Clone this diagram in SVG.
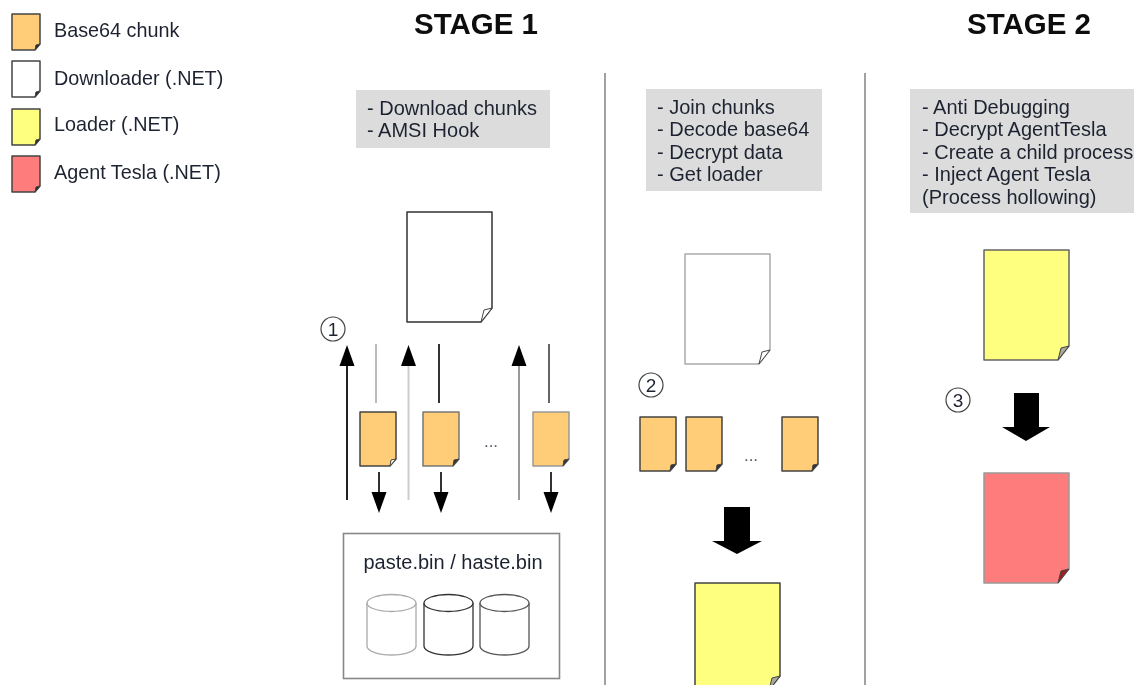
<svg xmlns="http://www.w3.org/2000/svg" width="1134" height="685" viewBox="0 0 1134 685">
<style>
text{font-family:"Liberation Sans",Arial,sans-serif;fill:#1e2430}
.leg{font-size:19.800px}
.title{font-size:29.500px;font-weight:bold;fill:#111;text-anchor:middle}
.note{font-size:20px}
.bin{font-size:20px;text-anchor:middle}
.panel{fill:#dcdcdc}
.doc{stroke:#444;stroke-width:1.5;stroke-linejoin:round}
.fold{fill:#777;stroke:#444;stroke-width:1}
.orange{fill:#ffcc77}.white{fill:#fff}.yellow{fill:#ffff7f}.red{fill:#ff7b7b}
.div{stroke:#8a8a8a;stroke-width:1.6;fill:none}
.wire{fill:none;stroke-width:2}
.head{fill:#000}
.cyl{fill:#fff;stroke:#555;stroke-width:1.3}
.num{fill:#fff;stroke:#444;stroke-width:1.2}
.numt{font-size:19px;text-anchor:middle}
.dots{font-size:17px;text-anchor:middle;fill:#556}
</style>
<defs>
<filter id="soft" x="0" y="0" width="1134" height="685" filterUnits="userSpaceOnUse"><feGaussianBlur stdDeviation="0.6"/></filter>
<path id="smallDoc" d="M0 0H36V47L30 54H0Z"/>
<path id="smallFold" d="M36 47L31 48L30 54Z"/>
<path id="bigDoc" d="M0 0H85V96L74 110H0Z"/>
<path id="bigFold" d="M85 96L77 98L74 110Z"/>
<path id="legDoc" d="M0 0H28V30L23 36H0Z"/>
<path id="legFold" d="M28 30L24 31L23 36Z"/>
<path id="arrowUp" d="M-7.500 21L0 0L7.500 21Z"/>
<path id="arrowDown" d="M-7.500 -21L0 0L7.500 -21Z"/>
<g id="cylShape"><path d="M0 9V52C0 57 11 61 24.500 61S49 57 49 52V9"/><ellipse cx="24.500" cy="9" rx="24.500" ry="8.500"/></g>
</defs>
<rect width="1134" height="685" fill="#fff"/>
<g filter="url(#soft)">
<g id="legend">
<g id="legend-base64"><use href="#legDoc" x="12" y="14" class="doc orange"/><use href="#legFold" x="12" y="14" class="fold" style="fill:#222"/><text x="54" y="37" class="leg">Base64 chunk</text></g>
<g id="legend-downloader"><use href="#legDoc" x="12" y="61" class="doc white"/><use href="#legFold" x="12" y="61" class="fold" style="fill:#222"/><text x="54" y="85" class="leg">Downloader (.NET)</text></g>
<g id="legend-loader"><use href="#legDoc" x="12" y="109" class="doc yellow"/><use href="#legFold" x="12" y="109" class="fold" style="fill:#222"/><text x="54" y="131" class="leg">Loader (.NET)</text></g>
<g id="legend-tesla"><use href="#legDoc" x="12" y="156" class="doc red"/><use href="#legFold" x="12" y="156" class="fold" style="fill:#222"/><text x="54" y="179" class="leg">Agent Tesla (.NET)</text></g>
</g>
<text x="476" y="34" class="title">STAGE 1</text>
<text x="1029" y="34" class="title">STAGE 2</text>
<path class="div" d="M605 73V685M865 73V685"/>
<g id="note-1"><rect class="panel" x="356" y="90" width="194" height="58"/><text class="note" x="367" y="115">- Download chunks</text><text class="note" x="367" y="137">- AMSI Hook</text></g>
<g id="note-2"><rect class="panel" x="646" y="89" width="176" height="102"/><text class="note" x="657" y="114">- Join chunks</text><text class="note" x="657" y="136">- Decode base64</text><text class="note" x="657" y="159">- Decrypt data</text><text class="note" x="657" y="181">- Get loader</text></g>
<g id="note-3"><rect class="panel" x="910" y="89" width="224" height="124"/><text class="note" x="922" y="114">- Anti Debugging</text><text class="note" x="922" y="136">- Decrypt AgentTesla</text><text class="note" x="922" y="159">- Create a child process</text><text class="note" x="922" y="181">- Inject Agent Tesla</text><text class="note" x="922" y="204">(Process hollowing)</text></g>
<g id="downloader-1"><use href="#bigDoc" x="407" y="212" class="doc white" style="stroke:#333"/><use href="#bigFold" x="407" y="212" class="fold" style="fill:#fff"/></g>
<g id="chunk-1"><use href="#smallDoc" x="360" y="412" class="doc orange"/><use href="#smallFold" x="360" y="412" class="fold" style="fill:#fff"/></g>
<g id="chunk-2"><use href="#smallDoc" x="423" y="412" class="doc orange" style="stroke:#777"/><use href="#smallFold" x="423" y="412" class="fold" style="fill:#333"/></g>
<text x="491" y="447" class="dots">...</text>
<g id="chunk-3"><use href="#smallDoc" x="533" y="412" class="doc orange" style="stroke:#999"/><use href="#smallFold" x="533" y="412" class="fold" style="fill:#333"/></g>
<g id="connectors">
<path class="wire" stroke="#222" d="M347 500V364"/><use href="#arrowUp" x="347" y="345" class="head"/>
<path class="wire" stroke="#bbb" d="M376 344V403"/>
<path class="wire" stroke="#ccc" d="M408.500 500V364"/><use href="#arrowUp" x="408.500" y="345" class="head"/>
<path class="wire" stroke="#333" d="M439 344V403"/>
<path class="wire" stroke="#999" d="M519 500V364"/><use href="#arrowUp" x="519" y="345" class="head"/>
<path class="wire" stroke="#666" d="M549 344V403"/>
<path class="wire" stroke="#333" d="M379 472V495"/><use href="#arrowDown" x="379" y="513" class="head"/>
<path class="wire" stroke="#333" d="M441 472V495"/><use href="#arrowDown" x="441" y="513" class="head"/>
<path class="wire" stroke="#333" d="M551 472V495"/><use href="#arrowDown" x="551" y="513" class="head"/>
<path class="head" d="M724 507H750V541H762L737 554L712 541H724Z"/>
<path class="head" d="M1014 393H1039V427H1050L1026 441L1002 427H1014Z"/>
</g>
<g id="storage">
<rect x="343.500" y="533.500" width="216" height="145" fill="#fff" stroke="#888" stroke-width="1.600"/>
<text x="453" y="569" class="bin">paste.bin / haste.bin</text>
<use href="#cylShape" x="367" y="594" class="cyl" style="stroke:#aaa"/>
<use href="#cylShape" x="424" y="594" class="cyl" style="stroke:#333"/>
<use href="#cylShape" x="480" y="594" class="cyl"/>
</g>
<g id="badge-1"><circle class="num" cx="333" cy="329" r="12"/><text class="numt" x="333" y="336">1</text></g>
<g id="downloader-2"><use href="#bigDoc" x="685" y="254" class="doc white" style="stroke:#aaa"/><use href="#bigFold" x="685" y="254" class="fold" style="fill:#fff"/></g>
<g id="badge-2"><circle class="num" cx="651" cy="385" r="12"/><text class="numt" x="651" y="392">2</text></g>
<g id="chunk-4"><use href="#smallDoc" x="640" y="417" class="doc orange"/><use href="#smallFold" x="640" y="417" class="fold" style="fill:#333"/></g>
<g id="chunk-5"><use href="#smallDoc" x="686" y="417" class="doc orange"/><use href="#smallFold" x="686" y="417" class="fold" style="fill:#333"/></g>
<text x="751" y="461" class="dots">...</text>
<g id="chunk-6"><use href="#smallDoc" x="782" y="417" class="doc orange"/><use href="#smallFold" x="782" y="417" class="fold" style="fill:#333"/></g>
<g id="loader-1"><path class="doc yellow" d="M695 583H780V676L769 690H695Z"/><path class="fold" style="fill:#aa9" d="M780 676L772 678L769 690Z"/></g>
<g id="loader-2"><use href="#bigDoc" x="984" y="250" class="doc yellow" style="stroke:#666"/><use href="#bigFold" x="984" y="250" class="fold" style="fill:#aa9"/></g>
<g id="badge-3"><circle class="num" cx="958" cy="400" r="12"/><text class="numt" x="958" y="407">3</text></g>
<g id="tesla"><use href="#bigDoc" x="984" y="473" class="doc red" style="stroke:#999"/><use href="#bigFold" x="984" y="473" class="fold" style="fill:#922"/></g>
</g>
</svg>
